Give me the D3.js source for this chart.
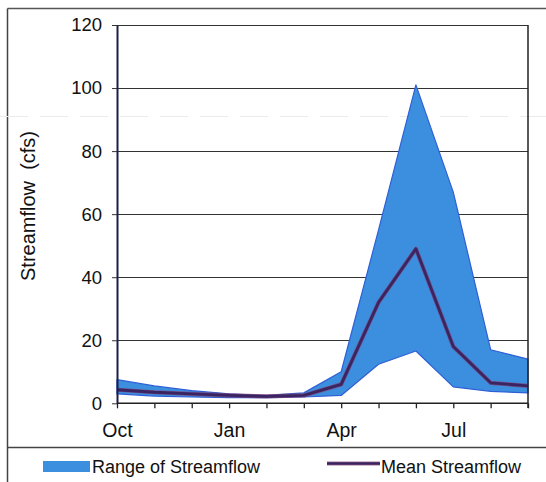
<!DOCTYPE html>
<html>
<head>
<meta charset="utf-8">
<script src="https://cdn.jsdelivr.net/npm/d3@7"></script>
<style>
  html, body { margin: 0; padding: 0; background: #fff; }
  svg { display: block; }
  text { font-family: "Liberation Sans", Arial, sans-serif; fill: #111; }
</style>
</head>
<body>
<svg id="chart" width="546" height="482"></svg>
<script>
// Monthly streamflow over the water year (Oct - Sep), in cfs
const months = ["Oct", "Nov", "Dec", "Jan", "Feb", "Mar", "Apr", "May", "Jun", "Jul", "Aug", "Sep"];
const maxFlow = [7.5, 5.5, 4, 3, 2.5, 3.3, 10, 55, 101, 67, 17, 14];
const minFlow = [3, 2.3, 2, 1.8, 1.8, 2, 2.5, 12.4, 16.6, 5.2, 3.8, 3.3];
const meanFlow = [4.3, 3.5, 3, 2.5, 2.2, 2.5, 6, 32, 49, 18, 6.5, 5.5];
const labeledMonths = ["Oct", "Jan", "Apr", "Jul"];
const yTicks = [0, 20, 40, 60, 80, 100, 120];

const svg = d3.select("#chart");

const x = d3.scalePoint().domain(months).range([117, 528]);
const y = d3.scaleLinear().domain([0, 120]).range([403.3, 25]);

// outer frame and legend divider
svg.append("line").attr("x1", 7.5).attr("x2", 546).attr("y1", 8.5).attr("y2", 8.5)
  .attr("stroke", "#555").attr("stroke-width", 1.5);
svg.append("line").attr("x1", 7.5).attr("x2", 7.5).attr("y1", 8.5).attr("y2", 482)
  .attr("stroke", "#444").attr("stroke-width", 1.5);
svg.append("line").attr("x1", 7.5).attr("x2", 546).attr("y1", 447.5).attr("y2", 447.5)
  .attr("stroke", "#444").attr("stroke-width", 1.3);
// faint crease across the sheet
svg.append("line").attr("x1", 0).attr("x2", 546).attr("y1", 116.5).attr("y2", 116.5)
  .attr("stroke", "#ebebeb").attr("stroke-width", 1.2).attr("stroke-dasharray", "28,12");

// horizontal gridlines
svg.append("g").selectAll("line").data(yTicks.filter(d => d > 0)).join("line")
  .attr("x1", 117).attr("x2", 528)
  .attr("y1", d => Math.round(y(d)) + 0.5).attr("y2", d => Math.round(y(d)) + 0.5)
  .attr("stroke", "#333").attr("stroke-width", 1.1);

// range band
const band = d3.area()
  .x((d, i) => x(months[i]))
  .y0((d, i) => y(minFlow[i]))
  .y1((d, i) => y(maxFlow[i]));
svg.append("path").datum(maxFlow).attr("d", band)
  .attr("fill", "#3b8fde").attr("stroke", "#2f5fd6").attr("stroke-width", 1.2)
  .attr("stroke-linejoin", "round");

// mean line
const meanLine = d3.line().x((d, i) => x(months[i])).y(d => y(d));
svg.append("path").datum(meanFlow).attr("d", meanLine)
  .attr("fill", "none").attr("stroke", "#8a3a6a").attr("stroke-width", 4.2)
  .attr("stroke-linejoin", "round").attr("opacity", 0.7);
svg.append("path").datum(meanFlow).attr("d", meanLine)
  .attr("fill", "none").attr("stroke", "#3a2562").attr("stroke-width", 2.8)
  .attr("stroke-linejoin", "round");

// right border
svg.append("line").attr("x1", 528).attr("x2", 528).attr("y1", 25).attr("y2", 408)
  .attr("stroke", "#222").attr("stroke-width", 1.5);

// y axis
const yAxis = d3.axisLeft(y).tickValues(yTicks).tickSize(5).tickSizeOuter(0).tickPadding(10);
const gy = svg.append("g").attr("transform", "translate(117,0)").call(yAxis);
gy.select(".domain").attr("stroke", "#1d1d4a").attr("stroke-width", 2);
gy.selectAll(".tick line").attr("stroke", "#333");
gy.selectAll(".tick text").attr("font-size", 18.5).attr("fill", "#111")
  .style("font-family", '"Liberation Sans", Arial, sans-serif');

// x axis
const xAxis = d3.axisBottom(x).tickSize(5).tickPadding(15)
  .tickFormat(d => labeledMonths.includes(d) ? d : "");
const gx = svg.append("g").attr("transform", "translate(0,403.3)").call(xAxis);
gx.select(".domain").attr("stroke", "#222").attr("stroke-width", 1.5)
  .attr("d", "M117,0H528");
gx.selectAll(".tick line").attr("stroke", "#222").attr("stroke-width", 1.3);
gx.selectAll(".tick text").attr("font-size", 19.5).attr("fill", "#111")
  .style("font-family", '"Liberation Sans", Arial, sans-serif');

// y axis title
svg.append("text")
  .attr("transform", "translate(35,206) rotate(-90)")
  .attr("text-anchor", "middle")
  .attr("font-size", 20)
  .style("white-space", "pre")
  .text("Streamflow  (cfs)");

// legend
const legend = svg.append("g");
legend.append("rect").attr("x", 43).attr("y", 461).attr("width", 47).attr("height", 11)
  .attr("fill", "#3b8fde");
legend.append("text").attr("x", 92).attr("y", 473).attr("font-size", 18)
  .text("Range of Streamflow");
legend.append("line").attr("x1", 327).attr("x2", 380).attr("y1", 463.5).attr("y2", 463.5)
  .attr("stroke", "#8a3a6a").attr("stroke-width", 4).attr("opacity", 0.7);
legend.append("line").attr("x1", 327).attr("x2", 380).attr("y1", 463.5).attr("y2", 463.5)
  .attr("stroke", "#3a2562").attr("stroke-width", 2.6);
legend.append("text").attr("x", 381).attr("y", 473).attr("font-size", 18)
  .text("Mean Streamflow");
</script>
</body>
</html>
